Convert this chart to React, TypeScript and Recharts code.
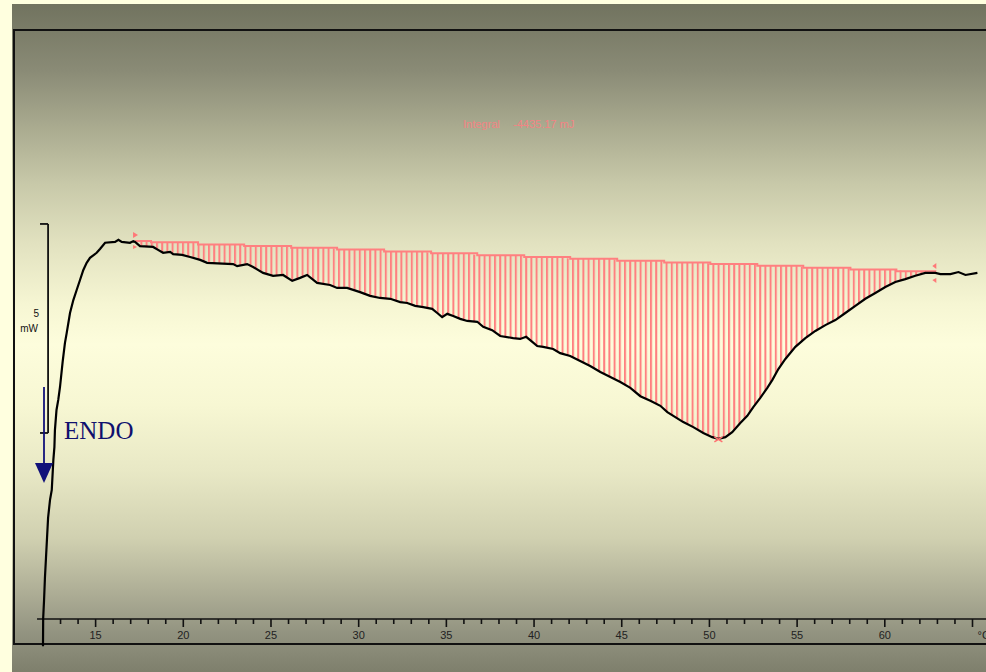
import React from "react";
import {
  ComposedChart,
  Line,
  Area,
  XAxis,
  YAxis,
  ReferenceLine,
  ReferenceDot,
} from "recharts";

// DSC trace: temperature (°C) vs heat flow (mW, arbitrary zero)
const temperature = [
  12.0, 12.01, 12.06, 12.11, 12.17, 12.23, 12.29, 12.4, 12.5, 12.59,
  12.65, 12.68, 12.77, 12.87, 12.97, 13.12, 13.25, 13.35, 13.54, 13.73,
  13.92, 14.11, 14.3, 14.49, 14.68, 15.06, 15.25, 15.54, 16.11, 16.3,
  16.49, 16.96, 17.15, 17.25, 17.53, 18.28, 18.56, 18.85, 19.25, 19.42,
  19.93, 20.39, 20.96, 21.36, 22.84, 23.07, 23.64, 23.98, 24.55, 25.12,
  25.69, 26.21, 26.66, 27.06, 27.63, 28.37, 28.77, 29.34, 30.08, 30.65,
  31.22, 31.8, 32.37, 32.77, 33.22, 33.68, 34.19, 34.48, 34.76, 35.05,
  35.39, 35.79, 36.19, 36.76, 37.1, 37.61, 38.07, 38.81, 39.21, 39.55,
  39.9, 40.18, 40.52, 41.09, 41.49, 42.06, 42.63, 43.2, 43.78, 44.35,
  44.92, 45.49, 46.06, 46.63, 47.2, 47.6, 47.94, 48.51, 49.08, 49.65,
  50.16, 50.51, 50.91, 51.3, 51.76, 52.16, 52.5, 52.9, 53.3, 53.59,
  53.93, 54.33, 54.9, 55.47, 56.04, 56.61, 57.18, 57.75, 58.32, 58.89,
  59.46, 60.03, 60.6, 61.17, 61.74, 62.31, 62.88, 63.17, 63.74, 64.2,
  64.6, 65.28,
];

const heatFlow = [
  -0.65, 0.02, 0.45, 0.98, 1.46, 1.94, 2.42, 2.85, 3.09, 3.8,
  4.11, 4.52, 5.0, 5.24, 5.55, 6.15, 6.6, 6.84, 7.32, 7.63,
  7.87, 8.11, 8.35, 8.52, 8.64, 8.76, 8.85, 9.0, 9.02, 9.07,
  9.02, 9.0, 9.04, 9.02, 8.92, 8.9, 8.83, 8.76, 8.78, 8.73,
  8.71, 8.66, 8.59, 8.52, 8.49, 8.44, 8.49, 8.42, 8.28, 8.21,
  8.23, 8.09, 8.16, 8.23, 8.04, 7.99, 7.92, 7.92, 7.82, 7.73,
  7.68, 7.66, 7.58, 7.56, 7.49, 7.46, 7.42, 7.32, 7.22, 7.3,
  7.25, 7.18, 7.13, 7.11, 6.99, 6.91, 6.77, 6.72, 6.7, 6.75,
  6.63, 6.53, 6.51, 6.46, 6.36, 6.29, 6.17, 6.05, 5.91, 5.79,
  5.67, 5.53, 5.33, 5.22, 5.1, 4.95, 4.86, 4.71, 4.59, 4.45,
  4.35, 4.31, 4.35, 4.47, 4.69, 4.86, 5.07, 5.29, 5.53, 5.72,
  5.98, 6.22, 6.51, 6.72, 6.89, 7.03, 7.15, 7.32, 7.49, 7.66,
  7.8, 7.94, 8.06, 8.13, 8.21, 8.28, 8.28, 8.25, 8.25, 8.3,
  8.23, 8.28,
];

// integration baseline (drawn as a staircase by the instrument software)
const baselineTemp = [
  17.25, 18.16, 20.84, 23.47, 26.15, 28.77, 31.45, 34.13, 36.76, 39.44,
  42.06, 44.74, 47.42, 50.05, 52.73, 55.35, 58.04, 60.66, 62.88,
];
const baselineLevel = [
  9.04, 9.01, 8.96, 8.92, 8.88, 8.84, 8.79, 8.75, 8.7, 8.66,
  8.62, 8.57, 8.53, 8.49, 8.45, 8.4, 8.36, 8.32, 8.3,
];

const tempTicks = [
  13, 14, 15, 16, 17, 18, 19, 20, 21, 22, 23, 24, 25, 26, 27, 28, 29, 30,
  31, 32, 33, 34, 35, 36, 37, 38, 39, 40, 41, 42, 43, 44, 45, 46, 47, 48,
  49, 50, 51, 52, 53, 54, 55, 56, 57, 58, 59, 60, 61, 62, 63, 64, 65,
];
const majorLabels: Record<number, string> = {
  15: "15", 20: "20", 25: "25", 30: "30", 35: "35", 40: "40",
  45: "45", 50: "50", 55: "55", 60: "60", 65: "°C",
};

const peak = { t: 50.51, hf: 4.31 };
const scaleBar = { t: 12.29, from: 4.45, to: 9.45, value: "5", unit: "mW" };
const integralLabel = "Integral";
const integralValue = "-4435.17 mJ";

const X_DOMAIN = [12, 65.77];
const Y_DOMAIN = [-0.67, 14.09];

const RED = "#ff8080";
const SANS = "Arial, 'Liberation Sans', sans-serif";

const baseAt = (t: number) => {
  if (t < baselineTemp[0] || t > baselineTemp[baselineTemp.length - 1]) return null;
  let level = baselineLevel[0];
  baselineTemp.forEach((bt, i) => {
    if (bt <= t) level = baselineLevel[i];
  });
  return level;
};

const rows = temperature.map((t, i) => {
  const b = baseAt(t);
  return { t, hf: heatFlow[i], band: b == null ? null : [heatFlow[i], b] };
});

const baselineRows = baselineTemp.map((t, i) => ({ t, base: baselineLevel[i] }));

// x axis is drawn 28px above the plot bottom so the trace can run below it
const AXIS_LIFT = 28;

const TempTick = (props: any) => {
  const { x, y, payload } = props;
  const v = payload.value as number;
  const label = majorLabels[v];
  const ay = y - AXIS_LIFT;
  return (
    <g>
      <line x1={x} x2={x} y1={ay} y2={ay + (label ? 8 : 5)} stroke="#111" strokeWidth={1.6} />
      {label && (
        <text
          x={v === 65 ? x + 5 : x}
          y={ay + 20}
          textAnchor={v === 65 ? "start" : "middle"}
          fontSize={11}
          fontFamily={SANS}
          fill="#222"
        >
          {label}
        </text>
      )}
    </g>
  );
};

const StartMark = ({ cx, cy }: any) => (
  <g fill="#ff7878">
    <polygon points={`${cx - 2},${cy - 9} ${cx - 2},${cy - 3} ${cx + 3},${cy - 6}`} />
    <polygon points={`${cx - 2},${cy + 4} ${cx - 2},${cy + 8} ${cx + 2},${cy + 6}`} />
  </g>
);

const EndMark = ({ cx, cy }: any) => (
  <g fill="#ff7878">
    <polygon points={`${cx + 1},${cy - 9} ${cx + 1},${cy - 3} ${cx - 3},${cy - 6}`} />
    <polygon points={`${cx + 1},${cy + 6} ${cx + 1},${cy + 11} ${cx - 3},${cy + 8}`} />
  </g>
);

const PeakMark = ({ cx, cy }: any) => (
  <g stroke="#ff7070" strokeWidth={1.5}>
    <line x1={cx - 4} y1={cy - 2} x2={cx + 4} y2={cy + 3} />
    <line x1={cx - 4} y1={cy + 3} x2={cx + 4} y2={cy - 2} />
  </g>
);

export default function App() {
  return (
    <div
      style={{
        position: "absolute",
        left: 0,
        top: 0,
        width: 986,
        height: 672,
        overflow: "hidden",
        background: "#ffffdf",
      }}
    >
      {/* panel gradient */}
      <div
        style={{
          position: "absolute",
          left: 12,
          top: 4,
          width: 974,
          height: 668,
          background:
            "linear-gradient(to bottom, #71735f 0%, #8a8b76 10%, #a8a98e 18%, #c8c9a9 27%, #e2e2c0 36%, #f6f6d3 45%, #fdfddc 51%, #f7f7d3 60%, #e8e8c5 70%, #d0d0b0 80%, #aeae96 88%, #939481 94%, #7e7f6c 100%)",
        }}
      />
      {/* frame */}
      <div
        style={{
          position: "absolute",
          left: 13,
          top: 29,
          width: 1000,
          height: 616,
          boxSizing: "border-box",
          border: "2px solid #111",
        }}
      />

      <div style={{ position: "absolute", left: 0, top: 0 }}>
        <ComposedChart
          width={986}
          height={672}
          data={rows}
          margin={{ top: 30, right: 0, left: 43, bottom: 0 }}
        >
          <defs>
            <pattern id="hatch" patternUnits="userSpaceOnUse" width={5.2} height={8}>
              <rect x={0} y={0} width={2} height={8} fill="#ff8080" />
            </pattern>
          </defs>

          <XAxis
            dataKey="t"
            type="number"
            domain={X_DOMAIN}
            ticks={tempTicks}
            interval={0}
            axisLine={false}
            tickLine={false}
            tickSize={0}
            tickMargin={0}
            height={25}
            tick={<TempTick />}
          />
          <YAxis hide type="number" domain={Y_DOMAIN} />

          {/* temperature axis line */}
          <ReferenceLine
            segment={[{ x: 11.66, y: 0 }, { x: X_DOMAIN[1], y: 0 }]}
            stroke="#111"
            strokeWidth={1.6}
            ifOverflow="visible"
          />

          {/* 5 mW scale bar */}
          <ReferenceLine
            segment={[{ x: scaleBar.t, y: scaleBar.from }, { x: scaleBar.t, y: scaleBar.to }]}
            stroke="#111"
            strokeWidth={1.8}
            ifOverflow="visible"
          />
          <ReferenceLine
            segment={[{ x: 11.83, y: scaleBar.to }, { x: scaleBar.t, y: scaleBar.to }]}
            stroke="#111"
            strokeWidth={1.8}
            ifOverflow="visible"
          />
          <ReferenceLine
            segment={[{ x: 11.83, y: scaleBar.from }, { x: scaleBar.t, y: scaleBar.from }]}
            stroke="#111"
            strokeWidth={1.8}
            ifOverflow="visible"
          />

          {/* integrated area */}
          <Area
            dataKey="band"
            type="linear"
            stroke="none"
            fill="url(#hatch)"
            fillOpacity={1}
            dot={false}
            activeDot={false}
            isAnimationActive={false}
          />
          <Line
            data={baselineRows}
            dataKey="base"
            type="stepAfter"
            stroke={RED}
            strokeWidth={2}
            dot={false}
            activeDot={false}
            isAnimationActive={false}
          />

          {/* measured curve */}
          <Line
            dataKey="hf"
            type="linear"
            stroke="#000"
            strokeWidth={2.2}
            dot={false}
            activeDot={false}
            isAnimationActive={false}
          />

          <ReferenceDot
            x={baselineTemp[0]}
            y={baselineLevel[0]}
            ifOverflow="visible"
            shape={StartMark}
          />
          <ReferenceDot
            x={baselineTemp[baselineTemp.length - 1]}
            y={baselineLevel[baselineLevel.length - 1]}
            ifOverflow="visible"
            shape={EndMark}
          />
          <ReferenceDot x={peak.t} y={peak.hf} ifOverflow="visible" shape={PeakMark} />
        </ComposedChart>
      </div>

      {/* annotations */}
      <svg
        width={986}
        height={672}
        style={{ position: "absolute", left: 0, top: 0, pointerEvents: "none" }}
      >
        <text x={39} y={317} textAnchor="end" fontSize={10} fontFamily={SANS} fill="#111">
          {scaleBar.value}
        </text>
        <text x={38} y={332} textAnchor="end" fontSize={10} fontFamily={SANS} fill="#111">
          {scaleBar.unit}
        </text>

        <line x1={44} y1={387} x2={44} y2={465} stroke="#12127a" strokeWidth={1.8} />
        <polygon points="35,463 53,463 44,483" fill="#12127a" />
        <text
          x={64}
          y={439}
          fontSize={25}
          fontFamily="'Times New Roman', 'Liberation Serif', serif"
          fill="#10106e"
        >
          ENDO
        </text>

        <text x={463} y={128} fontSize={11} fontFamily={SANS} fill="#f28484">
          {integralLabel}
        </text>
        <text x={513} y={128} fontSize={11} fontFamily={SANS} fill="#f28484">
          {integralValue}
        </text>
      </svg>
    </div>
  );
}
